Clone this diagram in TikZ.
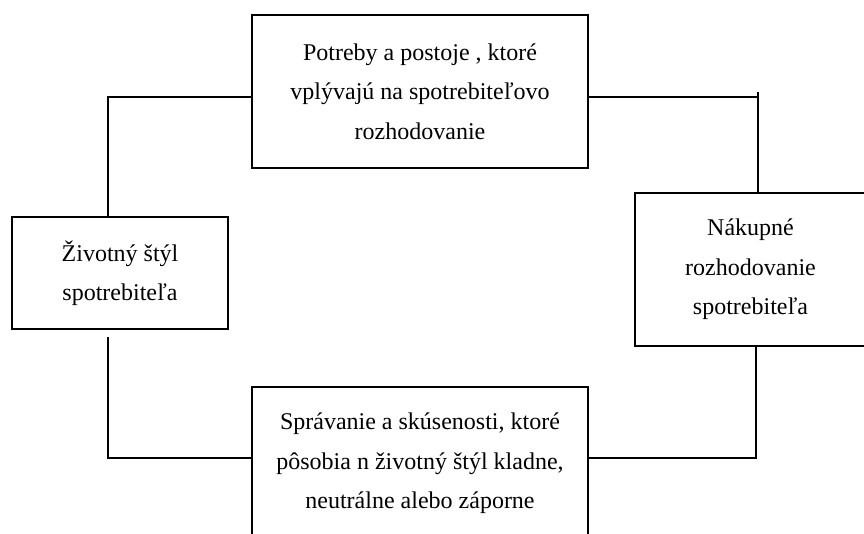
\documentclass[tikz,border=0pt]{standalone}
\usepackage{fontspec}
\setmainfont{Liberation Serif}
\begin{document}
\begin{tikzpicture}[x=1pt,y=-1pt,
  box/.style={draw,line width=1.8pt,rectangle,align=center,inner sep=0pt,
    font=\fontsize{24}{39.5}\selectfont},
  conn/.style={line width=1.8pt}]
\clip (0,0) rectangle (864,534);
\fill[white] (0,0) rectangle (864,534);
\node[box,minimum width=336,minimum height=153] (top) at (420,91.5)
  {Potreby a postoje , ktoré\\vplývajú na spotrebiteľovo\\rozhodovanie};
\node[box,minimum width=216,minimum height=112] (left) at (120,273)
  {Životný štýl\\spotrebiteľa};
\node[box,minimum width=231,minimum height=153] (right) at (750.5,269.5)
  {Nákupné\\rozhodovanie\\spotrebiteľa};
\node[box,minimum width=336,minimum height=153,anchor=north] (bottom) at (420,386)
  {Správanie a skúsenosti, ktoré\\pôsobia n životný štýl kladne,\\neutrálne alebo záporne};
\coordinate (c1) at (108,97);
\draw[conn] (top.west |- c1) -- (c1) -- (c1 |- left.north);
\coordinate (c2s) at (108,337);
\coordinate (c2) at (108,458);
\draw[conn] (c2s) -- (c2) -- (c2 -| bottom.west);
\coordinate (c3) at (756,458);
\draw[conn] (bottom.east |- c3) -- (c3) -- (c3 |- right.south);
\coordinate (c4) at (757,97);
\draw[conn] (top.east |- c4) -- (c4);
\coordinate (c5) at (758,92);
\draw[conn] (c5) -- (c5 |- right.north);
\end{tikzpicture}
\end{document}
